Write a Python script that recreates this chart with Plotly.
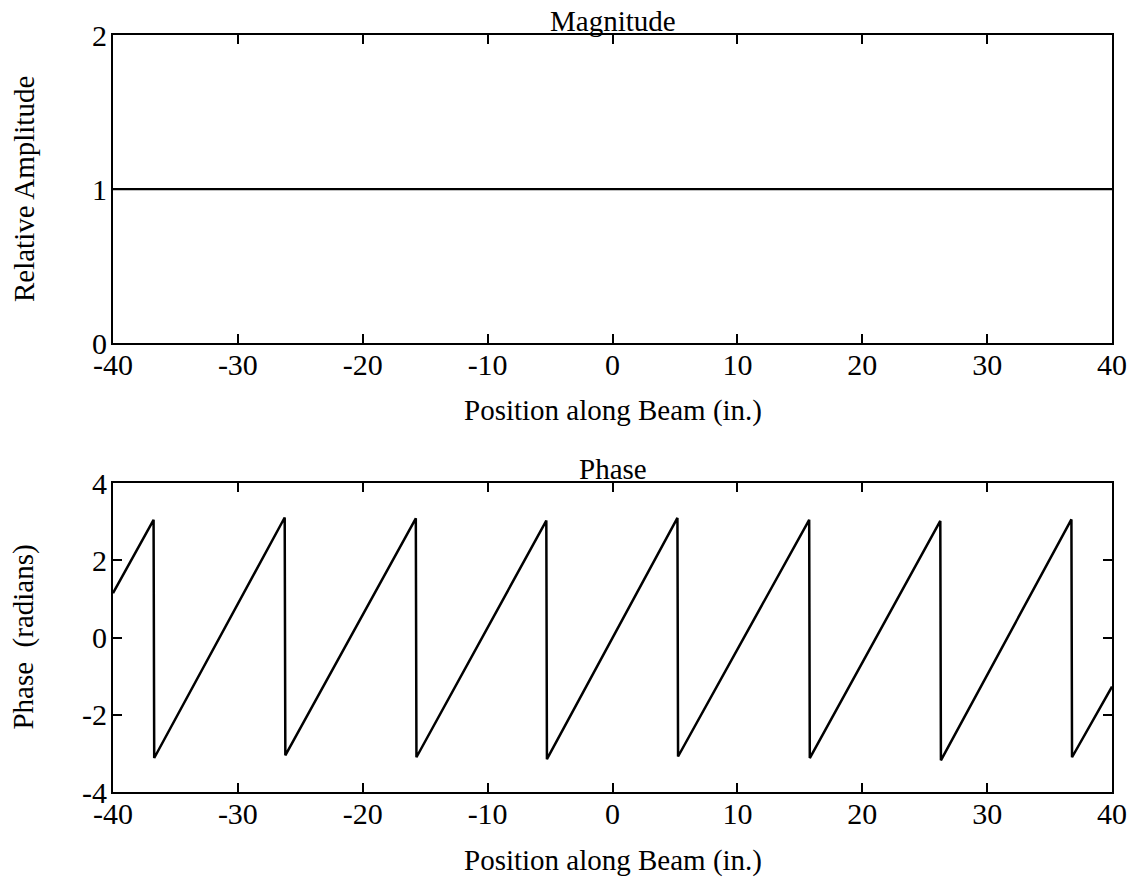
import plotly.graph_objects as go

# ---- data ----
mag_x = [-40, 40]
mag_y = [1.0, 1.0]

phase_x = [-40, -36.75, -36.7, -26.25, -26.2, -15.75, -15.7, -5.3, -5.25,
           5.2, 5.25, 15.75, 15.8, 26.25, 26.3, 36.75, 36.8, 40]
phase_y = [1.15, 3.05, -3.12, 3.11, -3.05, 3.09, -3.10, 3.03, -3.15,
           3.10, -3.08, 3.05, -3.12, 3.02, -3.18, 3.06, -3.10, -1.27]

x_ticks = [-40, -30, -20, -10, 0, 10, 20, 30, 40]
mag_ticks = [0, 1, 2]
phase_ticks = [-4, -2, 0, 2, 4]

x_title = "Position along Beam (in.)"
mag_title = "Relative Amplitude"
phase_title = "Phase  (radians)"

FONT = "Liberation Serif"
TFS = 30   # tick labels
LFS = 29   # titles

fig = go.Figure()
fig.add_trace(go.Scatter(x=mag_x, y=mag_y, mode="lines",
                         line=dict(color="black", width=2.2),
                         xaxis="x", yaxis="y", showlegend=False))
fig.add_trace(go.Scatter(x=phase_x, y=phase_y, mode="lines",
                         line=dict(color="black", width=2.5),
                         xaxis="x2", yaxis="y2", showlegend=False))

axis_common = dict(showline=True, linecolor="black", linewidth=2,
                   mirror="ticks", ticks="inside", ticklen=9, tickwidth=1.5,
                   tickcolor="black", showgrid=False, zeroline=False,
                   automargin=False,
                   tickfont=dict(family=FONT, size=TFS, color="black"))

def lab(vals):
    return [str(v) for v in vals]

top_dom = [0.593, 1.0]
bot_dom = [0.0, 0.408]

tfont = dict(family=FONT, size=LFS, color="black")

fig.update_layout(
    width=1137, height=883,
    margin=dict(l=113, r=25, t=35, b=91),
    paper_bgcolor="white", plot_bgcolor="white",
    font=dict(family=FONT, size=LFS, color="black"),
    xaxis=dict(domain=[0, 1], anchor="y", range=[-40, 40], tickvals=x_ticks,
               ticktext=lab(x_ticks), ticklabelstandoff=-6, **axis_common),
    yaxis=dict(domain=top_dom, anchor="x", range=[0, 2], tickvals=mag_ticks,
               ticktext=lab(mag_ticks), ticklabelstandoff=-2, **axis_common),
    xaxis2=dict(domain=[0, 1], anchor="y2", range=[-40, 40], tickvals=x_ticks,
                ticktext=lab(x_ticks), ticklabelstandoff=-6, **axis_common),
    yaxis2=dict(domain=bot_dom, anchor="x2", range=[-4, 4], tickvals=phase_ticks,
                ticktext=lab(phase_ticks), ticklabelstandoff=-2, **axis_common),
    annotations=[
        dict(text="Magnitude", x=0.5, y=top_dom[1], xref="paper", yref="paper",
             xanchor="center", yanchor="middle", showarrow=False, yshift=14,
             font=tfont),
        dict(text="Phase", x=0.5, y=bot_dom[1], xref="paper", yref="paper",
             xanchor="center", yanchor="middle", showarrow=False, yshift=14,
             font=tfont),
        dict(text=x_title, x=0.5, y=top_dom[0], xref="paper", yref="paper",
             xanchor="center", yanchor="middle", showarrow=False, yshift=-67,
             font=tfont),
        dict(text=x_title, x=0.5, y=bot_dom[0], xref="paper", yref="paper",
             xanchor="center", yanchor="middle", showarrow=False, yshift=-68,
             font=tfont),
        dict(text=mag_title, x=0, y=(top_dom[0] + top_dom[1]) / 2,
             xref="paper", yref="paper", xanchor="center", yanchor="middle",
             textangle=-90, showarrow=False, xshift=-89, font=tfont),
        dict(text=phase_title, x=0, y=(bot_dom[0] + bot_dom[1]) / 2,
             xref="paper", yref="paper", xanchor="center", yanchor="middle",
             textangle=-90, showarrow=False, xshift=-89, font=tfont),
    ],
)

fig.write_html("out.html",
               config={"displayModeBar": False},
               post_script="document.body.style.margin='0px';")
